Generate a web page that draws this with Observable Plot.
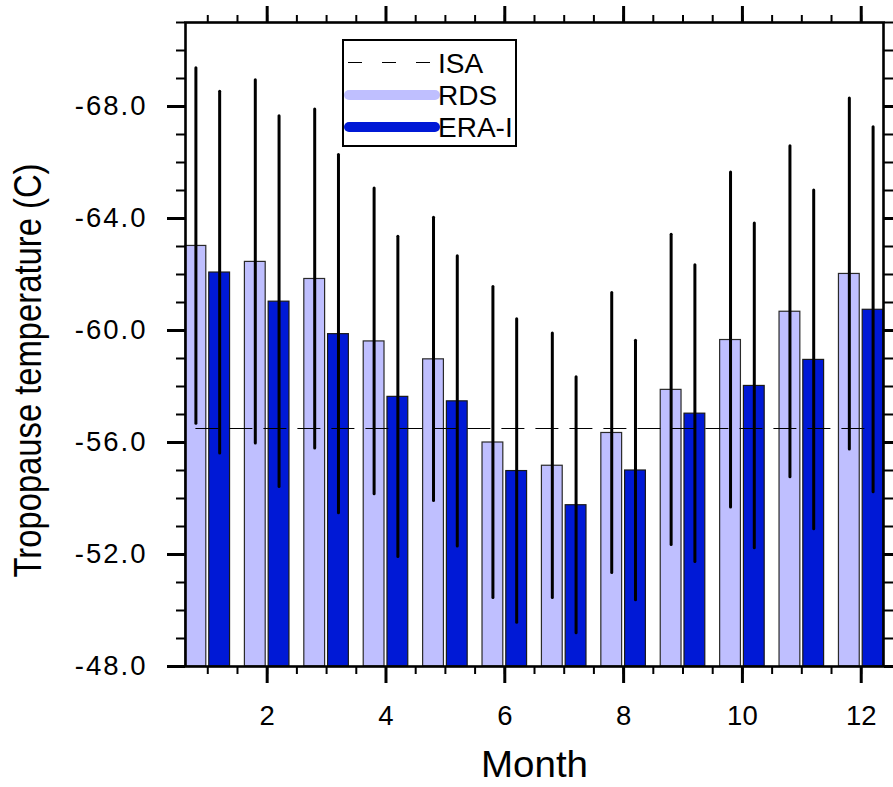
<!DOCTYPE html>
<html>
<head>
<meta charset="utf-8">
<script src="https://cdn.jsdelivr.net/npm/d3@7"></script>
<script src="https://cdn.jsdelivr.net/npm/@observablehq/plot@0.6"></script>
<style>
  html, body { margin: 0; padding: 0; background: white; }
  #wrap { position: relative; width: 893px; height: 787px; font-family: "Liberation Sans", Arial, sans-serif; }
  #legend { position: absolute; left: 342px; top: 39px; width: 175px; height: 108px; box-sizing: border-box; border: 2px solid black; background: white; }
  #legend svg { position: absolute; left: -2px; top: -2px; overflow: visible; }
</style>
</head>
<body>
<div id="wrap"></div>
<script>
// ---- data ----
const months = [1, 2, 3, 4, 5, 6, 7, 8, 9, 10, 11, 12];
const rdsMean = [-63.02, -62.45, -61.84, -59.61, -58.97, -56.00, -55.17, -56.34, -57.88, -59.66, -60.67, -62.02];
const rdsStd  = [6.35, 6.49, 6.05, 5.46, 5.06, 5.55, 4.72, 5.00, 5.54, 5.98, 5.91, 6.27];
const eraMean = [-62.07, -61.03, -59.87, -57.63, -57.47, -54.98, -53.76, -55.00, -57.03, -58.02, -58.95, -60.74];
const eraStd  = [6.46, 6.62, 6.40, 5.72, 5.18, 5.42, 4.57, 4.63, 5.30, 5.80, 6.05, 6.52];
const isaTemp = -56.5;
const seriesNames = ["ISA", "RDS", "ERA-I"];
const yMajorTicks = [-48, -52, -56, -60, -64, -68];
const yMinorTicks = d3.range(-48, -72, -1);
const xMajorTicks = [2, 4, 6, 8, 10, 12];
const xMinorTicks = d3.range(1, 12.5, 0.5);
const yTitle = "Tropopause temperature (C)";
const xTitle = "Month";

// ---- styling ----
const rdsColor = "#bfbfff";
const eraColor = "#0019d6";
const offset = 0.2, halfW = 0.175;
const yBase = -48;

const rds = months.map((m, i) => ({month: m, x: m - offset, mean: rdsMean[i], std: rdsStd[i]}));
const era = months.map((m, i) => ({month: m, x: m + offset, mean: eraMean[i], std: eraStd[i]}));
const all = rds.concat(era);

const font = 27.5;
const chart = Plot.plot({
  width: 893,
  height: 787,
  marginLeft: 185,
  marginRight: 10,
  marginTop: 22,
  marginBottom: 121,
  style: {fontFamily: '"Liberation Sans", Arial, sans-serif', background: "white", color: "black"},
  x: {domain: [0.625, 12.375]},
  y: {domain: [-48, -71]},
  marks: [
    Plot.rect(rds, {x1: d => d.x - halfW, x2: d => d.x + halfW, y1: yBase, y2: "mean", fill: rdsColor, stroke: "#2a2a2a", strokeWidth: 1.2}),
    Plot.rect(era, {x1: d => d.x - halfW, x2: d => d.x + halfW, y1: yBase, y2: "mean", fill: eraColor, stroke: "#1a1a1a", strokeWidth: 1.2}),
    Plot.ruleY([isaTemp], {x1: rds[0].x, x2: era[era.length - 1].x, stroke: "black", strokeWidth: 1.2, strokeDasharray: "23,11"}),
    Plot.ruleX(all, {x: "x", y1: d => d.mean - d.std, y2: d => d.mean + d.std, stroke: "black", strokeWidth: 3, strokeLinecap: "round"}),
    Plot.frame({stroke: "black", strokeWidth: 2.6}),
    Plot.axisY({anchor: "left", ticks: yMajorTicks, tickSize: 18, tickPadding: 20, tickFormat: d => d.toFixed(1), fontSize: font, strokeWidth: 3, label: null}),
    Plot.axisY({anchor: "left", ticks: yMinorTicks, tickSize: 9, tickFormat: () => "", strokeWidth: 2, label: null}),
    Plot.axisY({anchor: "right", ticks: yMajorTicks, tickSize: 18, tickFormat: () => "", strokeWidth: 3, label: null}),
    Plot.axisY({anchor: "right", ticks: yMinorTicks, tickSize: 10, tickFormat: () => "", strokeWidth: 2, label: null}),
    Plot.axisX({anchor: "bottom", ticks: xMajorTicks, tickSize: 17, tickPadding: 22, tickFormat: d => String(d), fontSize: font, strokeWidth: 3, label: null}),
    Plot.axisX({anchor: "bottom", ticks: xMinorTicks, tickSize: 8, tickFormat: () => "", strokeWidth: 2, label: null}),
    Plot.axisX({anchor: "top", ticks: xMajorTicks, tickSize: 17, tickFormat: () => "", strokeWidth: 3, label: null}),
    Plot.axisX({anchor: "top", ticks: xMinorTicks, tickSize: 8, tickFormat: () => "", strokeWidth: 2, label: null}),
    Plot.text([yTitle], {text: d => d, frameAnchor: "left", textAnchor: "middle", lineAnchor: "middle", rotate: -90, dx: -157, dy: 26, fontSize: 38, fill: "black"}),
    Plot.text([xTitle], {text: d => d, frameAnchor: "bottom", textAnchor: "middle", lineAnchor: "middle", dy: 99, fontSize: 36, fill: "black"})
  ]
});

const svg = d3.select(chart);
svg.selectAll("text").filter(function() { return this.textContent === yTitle; })
  .attr("textLength", 414).attr("lengthAdjust", "spacingAndGlyphs");
svg.selectAll("text").filter(function() { return this.textContent === xTitle; })
  .attr("textLength", 107).attr("lengthAdjust", "spacingAndGlyphs");
svg.selectAll('g[aria-label="y-axis tick label"] text').style("letter-spacing", "2px");

const wrap = document.getElementById("wrap");
wrap.appendChild(chart);

// ---- legend (inside plot area, as in the reference) ----
const legend = document.createElement("div");
legend.id = "legend";
wrap.appendChild(legend);
const lsvg = d3.select(legend).append("svg").attr("width", 175).attr("height", 108);
const items = [
  {name: seriesNames[0], color: "black", width: 1.2, dash: "14,20", cap: "butt", y: 23.5, x1: 6, x2: 96},
  {name: seriesNames[1], color: rdsColor, width: 10, dash: null, cap: "round", y: 56, x1: 7, x2: 93},
  {name: seriesNames[2], color: eraColor, width: 10, dash: null, cap: "round", y: 88, x1: 7, x2: 93}
];
items.forEach(it => {
  lsvg.append("line").attr("x1", it.x1).attr("x2", it.x2).attr("y1", it.y).attr("y2", it.y)
    .attr("stroke", it.color).attr("stroke-width", it.width).attr("stroke-linecap", it.cap)
    .attr("stroke-dasharray", it.dash);
  lsvg.append("text").attr("x", 96).attr("y", it.y + 10).attr("font-size", 28)
    .attr("font-family", '"Liberation Sans", Arial, sans-serif').attr("fill", "black").text(it.name);
});
</script>
</body>
</html>
